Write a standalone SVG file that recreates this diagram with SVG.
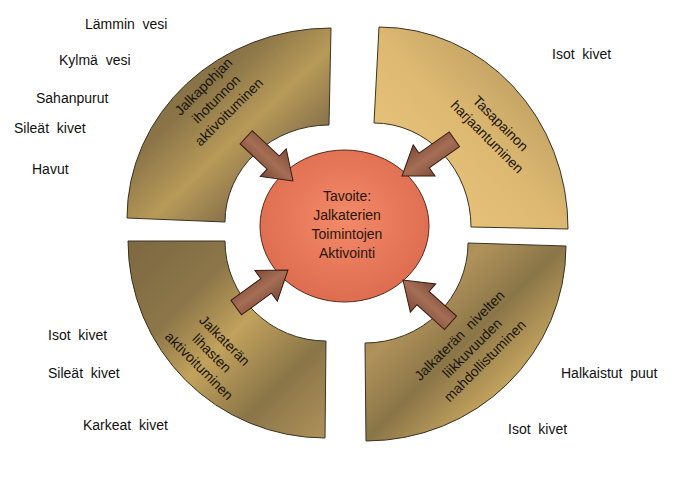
<svg xmlns="http://www.w3.org/2000/svg" width="679" height="484" viewBox="0 0 679 484">
<defs>
<linearGradient id="gTL" x1="0" y1="0" x2="1" y2="1">
<stop offset="0" stop-color="#7e6942"/>
<stop offset="0.35" stop-color="#8a7448"/>
<stop offset="0.55" stop-color="#b89a58"/>
<stop offset="0.75" stop-color="#86704a"/>
<stop offset="1" stop-color="#7a6540"/>
</linearGradient>
<linearGradient id="gTR" x1="0" y1="1" x2="1" y2="0">
<stop offset="0" stop-color="#f0cb80"/>
<stop offset="0.5" stop-color="#dcb871"/>
<stop offset="1" stop-color="#a88b55"/>
</linearGradient>
<linearGradient id="gBL" x1="0" y1="0" x2="1" y2="1">
<stop offset="0" stop-color="#7d6841"/>
<stop offset="0.3" stop-color="#8c7649"/>
<stop offset="0.5" stop-color="#c2a25c"/>
<stop offset="0.75" stop-color="#8a7548"/>
<stop offset="1" stop-color="#b0925a"/>
</linearGradient>
<linearGradient id="gBR" x1="0" y1="0" x2="1" y2="1">
<stop offset="0" stop-color="#8a7549"/>
<stop offset="0.3" stop-color="#b0925a"/>
<stop offset="0.5" stop-color="#8a7548"/>
<stop offset="0.7" stop-color="#c0a05c"/>
<stop offset="1" stop-color="#7e6942"/>
</linearGradient>
<radialGradient id="gC" cx="0.5" cy="0.45" r="0.6">
<stop offset="0" stop-color="#f38a68"/>
<stop offset="1" stop-color="#dc6a4e"/>
</radialGradient>
<linearGradient id="gA" x1="0" y1="0" x2="0" y2="1">
<stop offset="0" stop-color="#7e4c38"/>
<stop offset="0.5" stop-color="#a66e55"/>
<stop offset="1" stop-color="#7a4a36"/>
</linearGradient>
<path id="arrow" d="M0 0 L-27 -19 L-27 -9 L-64 -9 L-64 9 L-27 9 L-27 19 Z"/>
</defs>
<style>
.sec{stroke:#3b3222;stroke-width:1}
.t{font-family:"Liberation Sans",Arial,sans-serif;font-size:14px;fill:#111;white-space:pre}
.ct{font-family:"Liberation Sans",Arial,sans-serif;font-size:14px;fill:#2a140c;text-anchor:middle}
.st{font-family:"Liberation Sans",Arial,sans-serif;font-size:14px;fill:#1a1408;text-anchor:middle;white-space:pre}
.arr{fill:url(#gA);stroke:#3a1a10;stroke-width:1}
</style>
<rect width="679" height="484" fill="#fff"/>

<g id="sector-tl">
<path class="sec" fill="url(#gTL)" d="M127 218 A204 190 0 0 1 331 28 L329 125 A104 97 0 0 0 225 222 Z"/>
<text class="st" transform="translate(216,99) rotate(-45)"><tspan x="0" y="-13">Jalkapohjan</tspan><tspan x="0" y="5">ihotunnon</tspan><tspan x="0" y="23">aktivoituminen</tspan></text>
</g>
<g id="sector-tr">
<path class="sec" fill="url(#gTR)" d="M379 27 A189 201 0 0 1 568 229 L471 227 A97 104 0 0 0 374 123 Z"/>
<text class="st" transform="translate(494,130) rotate(45)"><tspan x="0" y="-4.5">Tasapainon</tspan><tspan x="0" y="14.5">harjaantuminen</tspan></text>
</g>
<g id="sector-bl">
<path class="sec" fill="url(#gBL)" d="M128 241 L225 241 A101 100 0 0 0 326 341 L325 438 A197 197 0 0 1 128 241 Z"/>
<text class="st" transform="translate(212,353) rotate(45)"><tspan x="0" y="-13">Jalkaterän</tspan><tspan x="0" y="5">lihasten</tspan><tspan x="0" y="23">aktivoituminen</tspan></text>
</g>
<g id="sector-br">
<path class="sec" fill="url(#gBR)" d="M468 243 L566 246 A200 195 0 0 1 366 441 L365 343 A103 100 0 0 0 468 243 Z"/>
<text class="st" transform="translate(472,348) rotate(-45)"><tspan x="0" y="-13">Jalkaterän  nivelten</tspan><tspan x="0" y="5">liikkuvuuden</tspan><tspan x="0" y="23">mahdollistuminen</tspan></text>
</g>

<g id="goal">
<ellipse cx="344.5" cy="226" rx="84.5" ry="76" fill="url(#gC)" stroke="#5a2a1a" stroke-width="1"/>
<text class="ct"><tspan x="347" y="201">Tavoite:</tspan><tspan x="347" y="220">Jalkaterien</tspan><tspan x="347" y="239">Toimintojen</tspan><tspan x="347" y="258">Aktivointi</tspan></text>
</g>

<g id="connectors">
<use href="#arrow" class="arr" transform="translate(293,181) rotate(43)"/>
<use href="#arrow" class="arr" transform="translate(402,176) rotate(145)"/>
<use href="#arrow" class="arr" transform="translate(288,270) rotate(-36)"/>
<use href="#arrow" class="arr" transform="translate(403,280) rotate(222)"/>
</g>

<g id="labels">
<text class="t" x="85" y="29">Lämmin  vesi</text>
<text class="t" x="59" y="65">Kylmä  vesi</text>
<text class="t" x="36" y="103">Sahanpurut</text>
<text class="t" x="14" y="133">Sileät  kivet</text>
<text class="t" x="32" y="174">Havut</text>
<text class="t" x="552" y="59">Isot  kivet</text>
<text class="t" x="48" y="340">Isot  kivet</text>
<text class="t" x="48" y="378">Sileät  kivet</text>
<text class="t" x="83" y="430">Karkeat  kivet</text>
<text class="t" x="561" y="378">Halkaistut  puut</text>
<text class="t" x="508" y="434">Isot  kivet</text>
</g>
</svg>
